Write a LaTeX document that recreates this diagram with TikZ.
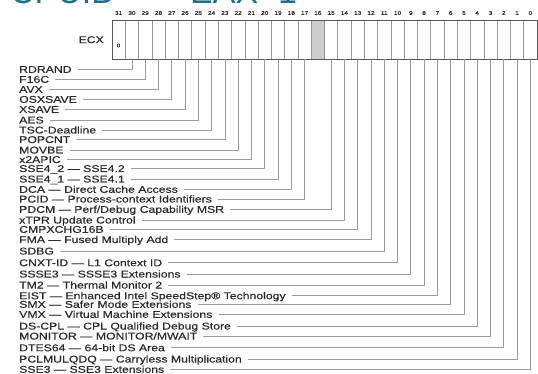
\documentclass[tikz,border=0pt]{standalone}
\usepackage{fontspec}
\setmainfont[FakeStretch=1.25,FakeBold=0.5]{Liberation Sans}
\newfontfamily\titlefont{Liberation Sans}
\definecolor{cputeal}{HTML}{1D6F8A}
\definecolor{ink}{HTML}{2A2A2A}
\definecolor{wirecol}{HTML}{9C9C9C}

\begin{document}
\begin{tikzpicture}[x=1pt,y=-1pt,
    flag/.style={anchor=west, inner sep=0pt, text height=7pt, text depth=0pt,
      font=\fontsize{9.8}{10}\selectfont, text=ink},
    wire/.style={draw=wirecol, line width=0.7pt},
    bitnum/.style={inner sep=0pt, font=\fontsize{5.2}{6}\selectfont, text=ink},
    heading/.style={anchor=south west, inner sep=0pt, text depth=0pt, text=cputeal,
      font=\titlefont\fontsize{34}{36}\selectfont}]
  \useasboundingbox (0,0) rectangle (538,374);
  \clip (0,0) rectangle (538,374);
  \node[heading] (titleA) at (10,3.5) {CPUID};
  \node[heading] (titleB) at (190,3.5) {EAX=1};
  \fill[black!20] (112+15*13.28,20) rectangle ++(13.28,39);
  \foreach \b in {0,...,31} {
    \pgfmathsetmacro\xl{112+(31-\b)*13.28}
    \draw[draw=black!40, line width=0.6pt] (\xl,20) rectangle ++(13.28,39);
    \node[bitnum] (n\b) at (\xl+6.64,13) {\b};
    \coordinate (b\b) at (\xl+6.64,59);
  }
  \draw[draw=black!65, line width=0.8pt] (112,20) rectangle (537,59);
  \node[flag, anchor=east] (ecx) at (104,39.6) {ECX};
  \node[bitnum] (zero) at (118.5,45.5) {0};
  \foreach \b/\y/\t in {
      30/69.3/{RDRAND}, 29/79.3/{F16C}, 28/89.3/{AVX}, 27/99.3/{OSXSAVE},
      26/109.3/{XSAVE}, 25/120/{AES}, 24/130/{TSC-Deadline}, 23/139.5/{POPCNT},
      22/150/{MOVBE}, 21/159.5/{x2APIC}, 20/168.5/{SSE4\_2 — SSE4.2},
      19/179/{SSE4\_1 — SSE4.1}, 18/189.3/{DCA — Direct Cache Access},
      17/199/{PCID — Process-context Identifiers},
      15/209.3/{PDCM — Perf/Debug Capability MSR},
      14/220/{xTPR Update Control}, 13/229.3/{CMPXCHG16B},
      12/239.5/{FMA — Fused Multiply Add}, 11/251/{SDBG},
      10/262.7/{CNXT-ID — L1 Context ID}, 9/274/{SSSE3 — SSSE3 Extensions},
      8/285/{TM2 — Thermal Monitor 2},
      7/295.7/{EIST — Enhanced Intel SpeedStep® Technology},
      6/304.3/{SMX — Safer Mode Extensions},
      5/314.3/{VMX — Virtual Machine Extensions},
      4/326/{DS-CPL — CPL Qualified Debug Store},
      3/336/{MONITOR — MONITOR/MWAIT}, 2/347.7/{DTES64 — 64-bit DS Area},
      1/359/{PCLMULQDQ — Carryless Multiplication},
      0/369.3/{SSE3 — SSE3 Extensions}} {
    \node[flag] (l\b) at (19,\y) {\t};
    \draw[wire] ([xshift=6pt]l\b.east) -| (b\b);
  }
\end{tikzpicture}
\end{document}
